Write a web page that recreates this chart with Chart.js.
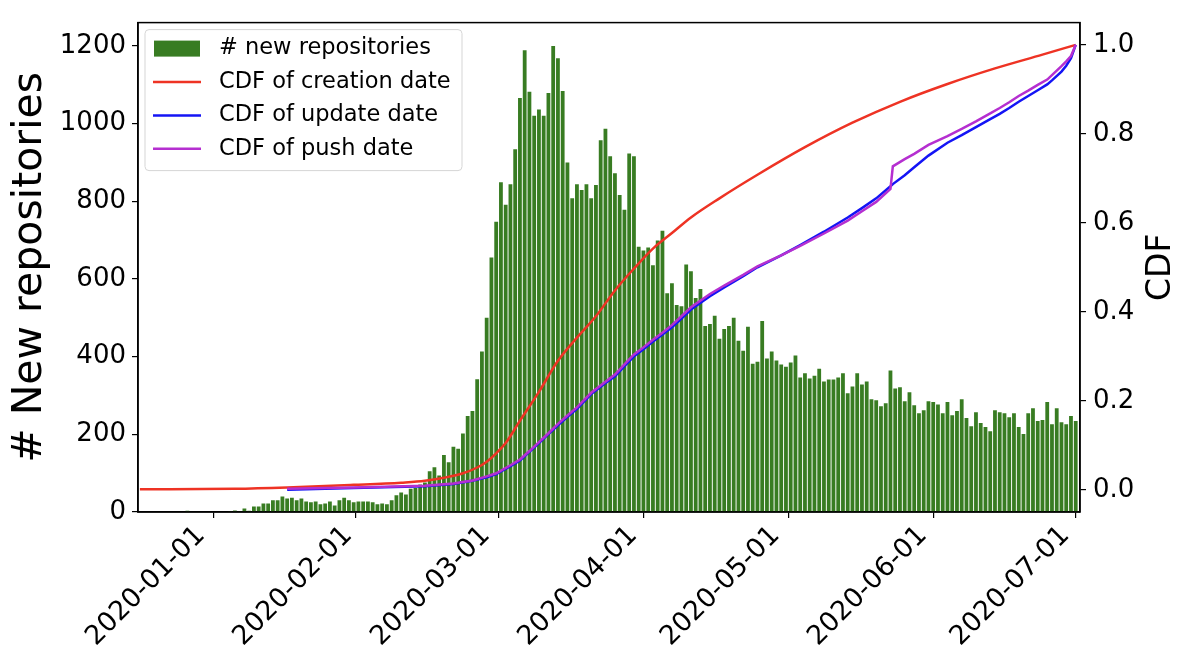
<!DOCTYPE html>
<html>
<head>
<meta charset="utf-8">
<script src="https://cdn.jsdelivr.net/npm/chart.js@4.4.1/dist/chart.umd.min.js"></script>
<style>
  html, body { margin: 0; padding: 0; background: #fff; }
</style>
</head>
<body>
<canvas id="chart" width="1190" height="664"></canvas>
<script>
// daily counts, one value per day starting at startDate
const startDate = '2020-01-01';
const newRepos = [
  0, 0, 0, 0, 0, 0, 0, 0, 0, 0,
  3, 0, 0, 0, 0, 0, 0, 0, 0, 2,
  4, 2, 9, 3, 14, 14, 22, 22, 30, 30,
  40, 35, 37, 30, 35, 27, 25, 27, 20, 22,
  27, 17, 30, 37, 30, 25, 27, 27, 27, 25,
  20, 22, 20, 30, 43, 50, 45, 60, 62, 71,
  76, 105, 115, 94, 147, 128, 168, 163, 202, 247,
  260, 342, 413, 500, 655, 747, 849, 791, 844, 934,
  1066, 1189, 1082, 1020, 1036, 1020, 1079, 1200, 1168, 1084,
  900, 808, 844, 829, 844, 808, 842, 957, 987, 916,
  872, 816, 778, 923, 916, 683, 673, 681, 635, 699,
  724, 563, 589, 533, 530, 637, 620, 551, 574, 479,
  484, 505, 446, 471, 479, 500, 441, 415, 477, 382,
  387, 492, 395, 413, 390, 380, 374, 385, 403, 346,
  357, 344, 351, 369, 336, 341, 341, 346, 357, 306,
  323, 357, 328, 336, 290, 288, 272, 280, 364, 318,
  321, 285, 308, 275, 254, 262, 285, 283, 277, 254,
  283, 249, 260, 290, 242, 221, 257, 229, 219, 208,
  262, 257, 254, 244, 254, 219, 201, 254, 267, 234,
  237, 283, 226, 267, 231, 226, 247, 234
];

// CDF curves, sampled (day offset from startDate, value)
const creationDays = [0, 20, 31, 45, 55, 60, 64, 68, 71, 73, 75, 77, 80, 84, 88, 92, 96, 100, 104, 108, 112, 116, 122, 130, 140, 150, 160, 170, 180, 190, 197];
const creationCdf = [0.001, 0.002, 0.005, 0.011, 0.016, 0.02, 0.027, 0.037, 0.05, 0.063, 0.082, 0.105, 0.155, 0.22, 0.29, 0.342, 0.39, 0.448, 0.497, 0.542, 0.577, 0.612, 0.655, 0.708, 0.77, 0.825, 0.872, 0.912, 0.947, 0.978, 1.0];

const updateDays = [31, 45, 60, 66, 70, 73, 75, 78, 80, 82, 84, 86, 88, 90, 92, 95, 98, 100, 102, 104, 106, 108, 110, 112, 114, 116, 120, 123, 127, 130, 135, 139, 144, 149, 152, 155, 158, 158.5, 161, 163, 166, 170, 173, 176, 179, 181, 183, 185, 187, 189, 191, 192, 194, 195, 196, 197];
const updateCdf = [0.0, 0.004, 0.008, 0.013, 0.02, 0.028, 0.035, 0.053, 0.066, 0.085, 0.105, 0.125, 0.145, 0.164, 0.182, 0.215, 0.24, 0.255, 0.278, 0.3, 0.316, 0.333, 0.349, 0.365, 0.385, 0.405, 0.435, 0.455, 0.48, 0.5, 0.527, 0.55, 0.58, 0.612, 0.633, 0.655, 0.682, 0.687, 0.707, 0.725, 0.751, 0.78, 0.797, 0.815, 0.833, 0.845, 0.858, 0.872, 0.885, 0.898, 0.911, 0.92, 0.94, 0.953, 0.97, 1.0];
const pushCdf = [0.002, 0.005, 0.009, 0.014, 0.021, 0.03, 0.037, 0.055, 0.068, 0.087, 0.107, 0.127, 0.148, 0.167, 0.185, 0.218, 0.243, 0.259, 0.282, 0.304, 0.32, 0.337, 0.353, 0.37, 0.39, 0.41, 0.44, 0.459, 0.483, 0.502, 0.527, 0.548, 0.576, 0.605, 0.626, 0.647, 0.676, 0.727, 0.743, 0.755, 0.775, 0.795, 0.811, 0.828, 0.846, 0.858, 0.871, 0.885, 0.897, 0.91, 0.922, 0.932, 0.952, 0.963, 0.975, 1.0];

const xTickLabels = ['2020-01-01', '2020-02-01', '2020-03-01', '2020-04-01', '2020-05-01', '2020-06-01', '2020-07-01'];
const leftTicks = [0, 200, 400, 600, 800, 1000, 1200];
const rightTicks = [0, 0.2, 0.4, 0.6, 0.8, 1.0];

const DAY = 86400000;
const dayOf = s => (Date.parse(s) - Date.parse(startDate)) / DAY;
const xTickDays = xTickLabels.map(dayOf);

const FONT = '"DejaVu Sans", sans-serif';

const overlay = {
  id: 'overlay',
  afterDraw(chart) {
    const {ctx, chartArea: a} = chart;
    ctx.save();
    // full frame
    ctx.strokeStyle = '#000';
    ctx.lineWidth = 1.5;
    ctx.strokeRect(a.left, a.top, a.right - a.left, a.bottom - a.top);

    // legend box, upper left
    const lx = a.left + 7, ly = a.top + 7, lw = 317, lh = 141;
    ctx.beginPath();
    ctx.roundRect(lx, ly, lw, lh, 4);
    ctx.fillStyle = 'rgba(255,255,255,0.8)';
    ctx.fill();
    ctx.strokeStyle = '#d5d5d5';
    ctx.lineWidth = 1;
    ctx.stroke();
    ctx.font = '22.5px ' + FONT;
    ctx.textBaseline = 'middle';
    ctx.textAlign = 'left';
    chart.data.datasets.forEach((ds, i) => {
      const cy = ly + 19 + i * 33.4;
      if (ds.type === 'bar') {
        ctx.fillStyle = ds.backgroundColor;
        ctx.fillRect(lx + 9, cy - 8, 46, 16);
      } else {
        ctx.strokeStyle = ds.borderColor;
        ctx.lineWidth = 2.5;
        ctx.beginPath();
        ctx.moveTo(lx + 8, cy);
        ctx.lineTo(lx + 56, cy);
        ctx.stroke();
      }
      ctx.fillStyle = '#000';
      ctx.fillText(ds.label, lx + 74, cy);
    });

    // right axis title, reading bottom to top
    ctx.translate(1161, (a.top + a.bottom) / 2);
    ctx.rotate(-Math.PI / 2);
    ctx.font = '33px ' + FONT;
    ctx.textAlign = 'center';
    ctx.fillStyle = '#000';
    ctx.fillText('CDF', 0, 0);
    ctx.restore();
  }
};

const pts = (xs, ys) => xs.map((x, i) => ({x: x, y: ys[i]}));

new Chart(document.getElementById('chart'), {
  type: 'bar',
  data: {
    datasets: [
      {
        type: 'bar',
        label: '# new repositories',
        data: newRepos.map((v, i) => ({x: i, y: v})),
        backgroundColor: '#387c22',
        barPercentage: 0.8,
        categoryPercentage: 1.0,
        yAxisID: 'y',
        order: 10
      },
      {
        type: 'line',
        label: 'CDF of creation date',
        data: pts(creationDays, creationCdf),
        borderColor: '#ee3324',
        borderWidth: 2.5,
        pointRadius: 0,
        cubicInterpolationMode: 'monotone',
        yAxisID: 'y2',
        order: 3
      },
      {
        type: 'line',
        label: 'CDF of update date',
        data: pts(updateDays, updateCdf),
        borderColor: '#1414f5',
        borderWidth: 2.5,
        pointRadius: 0,
        tension: 0,
        yAxisID: 'y2',
        order: 2
      },
      {
        type: 'line',
        label: 'CDF of push date',
        data: pts(updateDays, pushCdf),
        borderColor: '#b52fd0',
        borderWidth: 2.5,
        pointRadius: 0,
        tension: 0,
        yAxisID: 'y2',
        order: 1
      }
    ]
  },
  options: {
    responsive: false,
    animation: false,
    layout: { padding: { top: 17, left: 0, right: 0, bottom: 0 } },
    plugins: { legend: { display: false }, tooltip: { enabled: false } },
    scales: {
      x: {
        type: 'linear',
        offset: false,
        min: -0.4,
        max: 197.9,
        afterBuildTicks: s => { s.ticks = xTickDays.map(v => ({value: v})); },
        afterFit: s => { s.height = 152; },
        grid: { drawOnChartArea: false, drawTicks: true, tickLength: 6, color: '#000', lineWidth: 1.2 },
        border: { display: true, color: '#000', width: 1.5 },
        ticks: {
          autoSkip: false,
          maxRotation: 45,
          minRotation: 45,
          labelOffset: 61,
          padding: 2,
          color: '#000',
          font: { family: FONT, size: 26.8 },
          callback: v => xTickLabels[xTickDays.indexOf(v)]
        }
      },
      y: {
        position: 'left',
        min: 0,
        max: 1260,
        afterBuildTicks: s => { s.ticks = leftTicks.map(v => ({value: v})); },
        afterFit: s => { s.width = 138; },
        grid: { drawOnChartArea: false, drawTicks: true, tickLength: 6, color: '#000', lineWidth: 1.2 },
        border: { display: true, color: '#000', width: 1.5 },
        ticks: { color: '#000', padding: 6, font: { family: FONT, size: 26 }, callback: v => String(v) },
        title: {
          display: true,
          text: '# New repositories',
          color: '#000',
          font: { family: FONT, size: 41 },
          padding: { top: 6, bottom: 0 }
        }
      },
      y2: {
        position: 'right',
        min: -0.05,
        max: 1.05,
        afterBuildTicks: s => { s.ticks = rightTicks.map(v => ({value: v})); },
        afterFit: s => { s.width = 110; },
        grid: { drawOnChartArea: false, drawTicks: true, tickLength: 6, color: '#000', lineWidth: 1.2 },
        border: { display: true, color: '#000', width: 1.5 },
        ticks: { color: '#000', padding: 7, font: { family: FONT, size: 26 }, callback: v => v.toFixed(1) }
      }
    }
  },
  plugins: [overlay]
});
</script>
</body>
</html>
